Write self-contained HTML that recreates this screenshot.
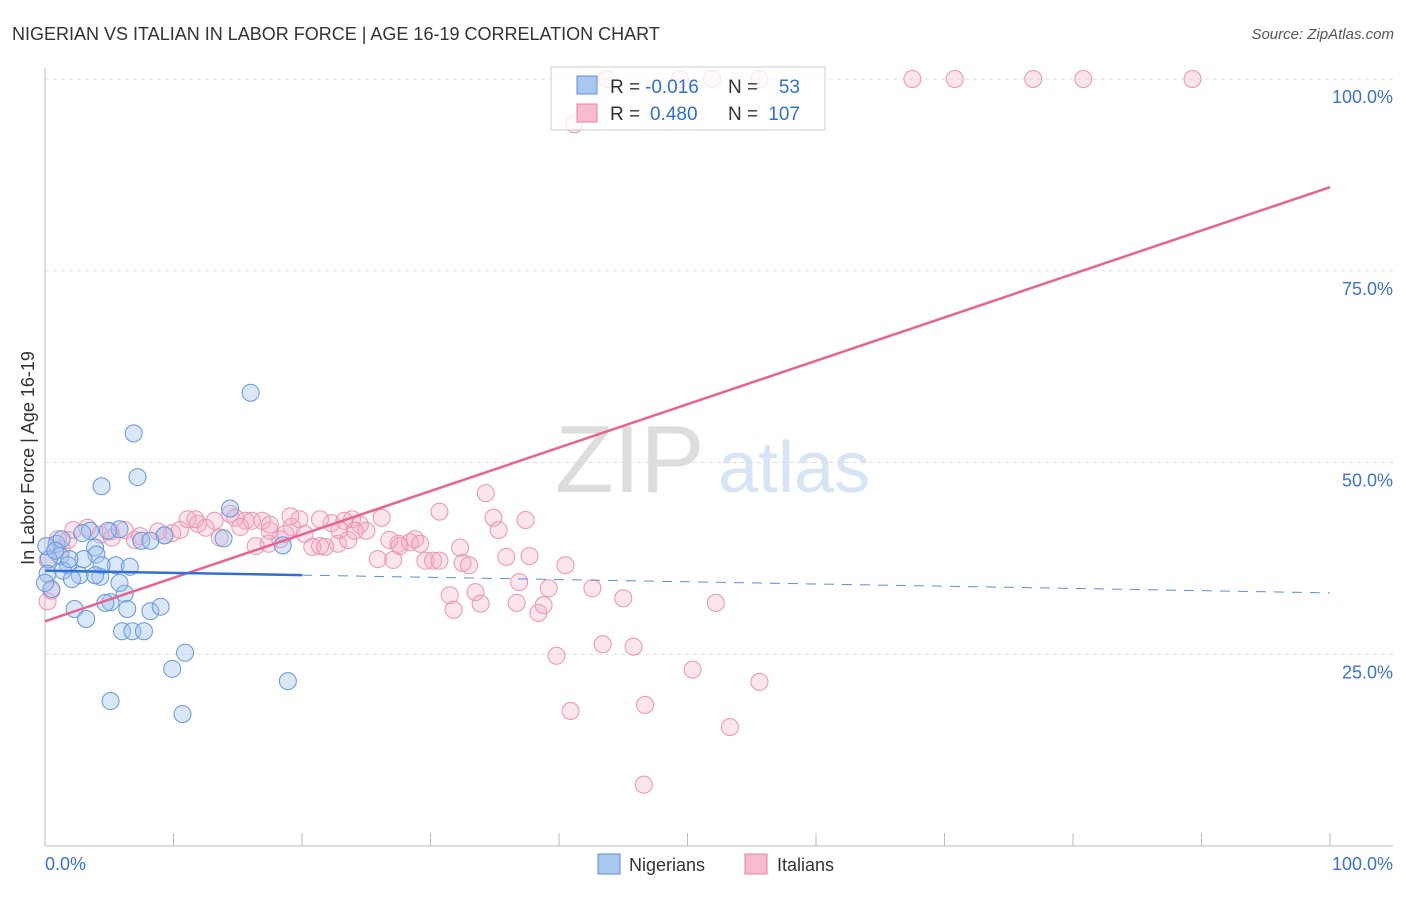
<!DOCTYPE html>
<html><head><meta charset="utf-8"><style>
body{margin:0;background:#fff;font-family:"Liberation Sans",sans-serif}
svg text{font-family:"Liberation Sans",sans-serif}
</style></head><body>
<svg id="c" width="1406" height="892" xmlns="http://www.w3.org/2000/svg">
<text x="12" y="40" font-size="18" fill="#333">NIGERIAN VS ITALIAN IN LABOR FORCE | AGE 16-19 CORRELATION CHART</text>
<text x="1394" y="39" font-size="15" fill="#555" font-style="italic" text-anchor="end">Source: ZipAtlas.com</text>
<text x="555" y="492" font-size="96" fill="#ddd" font-family="Liberation Serif">ZIP</text>
<text x="718" y="492" font-size="72" fill="#d6e4f5">atlas</text>
<text transform="translate(34,458) rotate(-90)" font-size="18" fill="#333" text-anchor="middle">In Labor Force | Age 16-19</text>
<g id="grid"></g><g id="pts"></g><g id="lines"></g>
<g>
<rect x="551" y="67" width="274" height="63" fill="rgba(255,255,255,0.75)" stroke="#ccc"/>
<rect x="577" y="76" width="20" height="18" fill="#a9c8f0" stroke="#5b8fd9"/>
<rect x="577" y="104" width="20" height="18" fill="#f8bcd0" stroke="#e87fa0"/>
<text x="610" y="93" font-size="19" fill="#333">R =</text>
<text x="645" y="93" font-size="19" fill="#2f6fd6">-0.016</text>
<text x="728" y="93" font-size="19" fill="#333">N =</text>
<text x="800" y="93" font-size="19" fill="#2f6fd6" text-anchor="end">53</text>
<text x="610" y="120" font-size="19" fill="#333">R =</text>
<text x="650" y="120" font-size="19" fill="#2f6fd6">0.480</text>
<text x="728" y="120" font-size="19" fill="#333">N =</text>
<text x="800" y="120" font-size="19" fill="#2f6fd6" text-anchor="end">107</text>
</g>
<text x="45" y="870" font-size="18" fill="#3b73cc">0.0%</text>
<text x="1393" y="870" font-size="18" fill="#3b73cc" text-anchor="end">100.0%</text>
<rect x="598" y="854" width="22" height="20" fill="#a9c8f0" stroke="#5b8fd9"/>
<text x="629" y="871" font-size="18" fill="#333">Nigerians</text>
<rect x="745" y="854" width="22" height="20" fill="#f8bcd0" stroke="#e87fa0"/>
<text x="777" y="871" font-size="18" fill="#333">Italians</text>
</svg>
<script>
const yTicks=[100,75,50,25];
const xTickCount=10;
const nigX=[16.0,6.9,7.2,4.4,14.4,13.9,18.5,9.3,7.5,3.9,4.0,5.8,3.5,0.9,1.2,0.3,0.2,0.5,1.8,1.4,2.7,2.1,4.3,5.5,6.6,4.4,3.0,5.1,4.7,6.2,6.4,8.2,9.0,2.3,3.2,6.0,6.8,7.7,10.9,9.9,18.9,5.1,10.7,0.1,0,1.3,0.8,2.9,5.8,4.9,8.2,3.9,1.9];
const nigY=[59.1,53.8,48.1,46.9,44.0,40.1,39.2,40.5,39.8,38.9,38.0,41.3,41.1,39.4,37.8,37.4,35.5,33.5,36.6,35.9,35.3,34.8,35.1,36.6,36.4,36.6,37.4,31.8,31.7,32.9,30.9,30.6,31.2,30.9,29.6,28.0,28.0,28.0,25.2,23.1,21.5,18.9,17.2,39.1,34.3,40.0,38.5,40.8,34.3,41.1,39.8,35.3,37.4];
const itaX=[0.2,0.5,0.2,2.2,3.3,5.1,6.2,7.0,8.8,9.9,11.1,11.9,13.2,14.4,15.6,16.9,17.4,18.3,19.2,19.8,20.2,20.8,21.4,22.3,22.8,23.3,23.9,24.5,25.0,26.2,25.9,27.1,27.5,28.4,28.8,29.6,30.2,30.7,31.5,31.8,32.5,33.5,33.9,34.3,34.9,35.3,35.9,36.7,37.4,37.7,38.4,38.8,39.2,39.8,40.5,40.9,41.2,42.6,43.4,45.0,45.8,46.7,46.6,50.4,52.2,53.3,55.6,43.7,49.4,51.9,55.6,67.5,70.8,76.9,80.8,89.3,1.8,4.3,7.4,10.5,12.5,13.6,14.8,16.1,18.7,21.8,23.6,27.6,29.2,16.4,17.5,1.0,1.3,5.2,17.5,19.1,21.4,22.9,26.8,24.1,30.7,32.3,33.0,36.9,15.2,9.3,11.7];
const itaY=[31.9,33.3,37.3,41.2,41.5,41.0,41.2,39.9,41.0,40.8,42.6,42.0,42.4,43.3,42.4,42.4,39.4,40.0,41.6,42.6,40.7,39.0,39.1,42.1,39.4,42.4,42.6,41.9,41.1,42.8,37.4,37.3,39.4,39.6,40.0,37.2,37.2,43.6,32.7,30.8,36.9,33.1,31.6,46.0,42.8,41.2,37.7,31.7,42.5,37.8,30.4,31.4,33.6,24.8,36.6,17.6,94.1,33.6,26.3,32.3,26.0,18.4,8.0,23.0,31.7,15.5,21.4,100,100,100,100,100,100,100,100,100,39.9,40.6,40.4,41.2,41.5,40.2,42.8,42.4,40.7,39.0,39.9,39.1,39.4,39.1,41.1,40.0,38.7,40.2,41.9,43.0,42.6,41.2,39.9,41.1,37.2,38.9,36.6,34.4,41.6,40.5,42.6];
const nigTrend=[35.9,33.0], itaTrend=[29.3,85.9];
const NS='http://www.w3.org/2000/svg';
const X=v=>45+v*12.85, Y=v=>846-v*7.67;
function mk(t,a,p){const e=document.createElementNS(NS,t);for(const k in a)e.setAttribute(k,a[k]);p.appendChild(e);return e;}
const grid=document.getElementById('grid');
yTicks.forEach(t=>{
 const l=mk('line',{x1:45,x2:1393,y1:Y(t),y2:Y(t),stroke:'#ddd','stroke-dasharray':'4,4'},grid);
 
 
 const tx=mk('text',{x:1393,y:Y(t)+24,'font-size':18,fill:'#3b73cc','text-anchor':'end'},grid);
 tx.textContent=t.toFixed(1)+'%';
 
 
});
const ax=mk('line',{x1:45,x2:45,y1:68,y2:846,stroke:'#bbb'},grid);


const bx=mk('line',{x1:45,x2:1393,y1:846,y2:846,stroke:'#bbb'},grid);


for(let i=1;i<=xTickCount;i++){const t=mk('line',{x1:X(i*10),x2:X(i*10),y1:833,y2:846,stroke:'#bbb'},grid);
 
 }
const pts=document.getElementById('pts');
itaX.forEach((v,i)=>{const c=mk('circle',{cx:X(v),cy:Y(itaY[i]),r:8.5,fill:'rgba(245,170,196,0.3)',stroke:'#ec93b0','stroke-width':1},pts);
 
 });
nigX.forEach((v,i)=>{const c=mk('circle',{cx:X(v),cy:Y(nigY[i]),r:8.5,fill:'rgba(160,196,240,0.4)',stroke:'#6496dc','stroke-width':1},pts);
 
 });
const ln=document.getElementById('lines');
const it=mk('line',{x1:X(0),y1:Y(itaTrend[0]),x2:X(100),y2:Y(itaTrend[1]),stroke:'#e8638f','stroke-width':2.5},ln);


const ny=v=>nigTrend[0]+(nigTrend[1]-nigTrend[0])*v/100;
const n1=mk('line',{x1:X(0),y1:Y(ny(0)),x2:X(20),y2:Y(ny(20)),stroke:'#2f6fd6','stroke-width':2.5},ln);


const n2=mk('line',{x1:X(20),y1:Y(ny(20)),x2:X(100),y2:Y(ny(100)),stroke:'#5b8fd9','stroke-width':1,'stroke-dasharray':'10,8'},ln);


</script>
</body></html>
